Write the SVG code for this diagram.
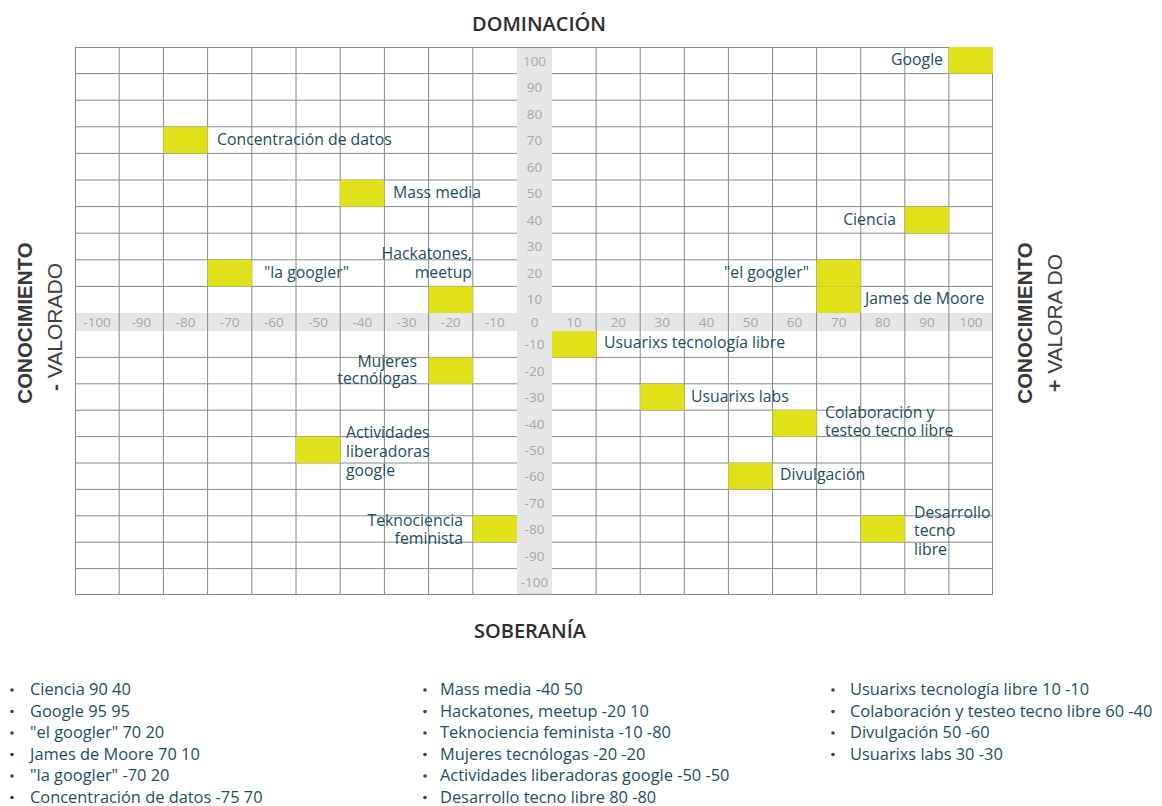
<svg xmlns="http://www.w3.org/2000/svg" width="1162" height="806" viewBox="0 0 1162 806">
<style>
.bg{fill:#ffffff}
.band{fill:#e6e6e6}
.gl{stroke:#8a8a8a;stroke-width:1;fill:none}
.tick{font-family:"Open Sans","Liberation Sans",sans-serif;font-size:13.5px;fill:#a6a6a6;text-anchor:middle}
.sq{fill:#dfe21b}
.lbl{font-family:"Open Sans","Liberation Sans",sans-serif;font-size:15.8px;font-weight:500;fill:#1f4f5c}
.end{text-anchor:end}
.title{font-family:"Open Sans","Liberation Sans",sans-serif;font-size:20px;font-weight:600;fill:#2e2e2e;text-anchor:middle}
.vbold{font-family:"Liberation Sans",Arial,sans-serif;font-size:20.5px;font-weight:bold;fill:#383838;text-anchor:middle}
.vreg{font-family:"Liberation Sans",Arial,sans-serif;font-size:21px;fill:#404040;text-anchor:middle}
.sign{font-weight:bold}
.leg{font-family:"Open Sans","Liberation Sans",sans-serif;font-size:16.4px;font-weight:500;fill:#1f4f5c}
.dot{fill:#1f4f5c}
</style>
<rect class="bg" x="0" y="0" width="1162" height="806"/>

<g id="grid">
<rect class="band" x="75" y="313" width="918" height="18"/>
<rect class="band" x="517" y="47" width="35" height="548"/>
<path class="gl" d="M75 47.5H993M75 73.6H517M552 73.6H993M75 100.2H517M552 100.2H993M75 126.8H517M552 126.8H993M75 153.4H517M552 153.4H993M75 180H517M552 180H993M75 206.6H517M552 206.6H993M75 233.2H517M552 233.2H993M75 259.8H517M552 259.8H993M75 286.4H517M552 286.4H993M75 357.4H517M552 357.4H993M75 383.8H517M552 383.8H993M75 410.2H517M552 410.2H993M75 436.6H517M552 436.6H993M75 463H517M552 463H993M75 489.4H517M552 489.4H993M75 515.8H517M552 515.8H993M75 542.2H517M552 542.2H993M75 568.6H517M552 568.6H993M75 594.5H993"/>
<path class="gl" d="M75.5 47V595M119.2 47V595M163.4 47V595M207.6 47V595M251.8 47V595M296 47V595M340.2 47V595M384.4 47V595M428.6 47V595M472.8 47V595M596.1 47V595M640.2 47V595M684.3 47V595M728.4 47V595M772.5 47V595M816.6 47V595M860.7 47V595M904.8 47V595M948.9 47V595M992.5 47V595"/>
</g>

<g id="ticks">
<text class="tick" x="534.5" y="65.5">100</text>
<text class="tick" x="534.5" y="92">90</text>
<text class="tick" x="534.5" y="118.5">80</text>
<text class="tick" x="534.5" y="145">70</text>
<text class="tick" x="534.5" y="171.5">60</text>
<text class="tick" x="534.5" y="198">50</text>
<text class="tick" x="534.5" y="224.5">40</text>
<text class="tick" x="534.5" y="251">30</text>
<text class="tick" x="534.5" y="277.5">20</text>
<text class="tick" x="534.5" y="304">10</text>
<text class="tick" x="534.5" y="327">0</text>
<text class="tick" x="534.5" y="349">-10</text>
<text class="tick" x="534.5" y="375.5">-20</text>
<text class="tick" x="534.5" y="402">-30</text>
<text class="tick" x="534.5" y="428.5">-40</text>
<text class="tick" x="534.5" y="455">-50</text>
<text class="tick" x="534.5" y="481">-60</text>
<text class="tick" x="534.5" y="507.5">-70</text>
<text class="tick" x="534.5" y="534">-80</text>
<text class="tick" x="534.5" y="560.5">-90</text>
<text class="tick" x="534.5" y="587">-100</text>
<text class="tick" x="97.1" y="327">-100</text>
<text class="tick" x="141.3" y="327">-90</text>
<text class="tick" x="185.5" y="327">-80</text>
<text class="tick" x="229.7" y="327">-70</text>
<text class="tick" x="273.9" y="327">-60</text>
<text class="tick" x="318.1" y="327">-50</text>
<text class="tick" x="362.3" y="327">-40</text>
<text class="tick" x="406.5" y="327">-30</text>
<text class="tick" x="450.7" y="327">-20</text>
<text class="tick" x="494.9" y="327">-10</text>
<text class="tick" x="574" y="327">10</text>
<text class="tick" x="618.2" y="327">20</text>
<text class="tick" x="662.3" y="327">30</text>
<text class="tick" x="706.4" y="327">40</text>
<text class="tick" x="750.5" y="327">50</text>
<text class="tick" x="794.6" y="327">60</text>
<text class="tick" x="838.7" y="327">70</text>
<text class="tick" x="882.8" y="327">80</text>
<text class="tick" x="926.9" y="327">90</text>
<text class="tick" x="971" y="327">100</text>
</g>

<g id="axis-titles">
<text class="title" x="539" y="31">DOMINACIÓN</text>
<text class="title" x="530" y="638">SOBERANÍA</text>
<text class="vbold" transform="translate(32 323) rotate(-90)">CONOCIMIENTO</text>
<text class="vreg" transform="translate(62 327) rotate(-90)"><tspan class="sign">-</tspan> VALORADO</text>
<text class="vbold" transform="translate(1032 323) rotate(-90)">CONOCIMIENTO</text>
<text class="vreg" transform="translate(1062 323) rotate(-90)"><tspan class="sign">+</tspan> VALORA DO</text>
</g>

<g id="node-google">
<rect class="sq" x="948.9" y="47" width="44.1" height="26.6"/>
<text class="lbl end" x="943" y="65">Google</text>
</g>
<g id="node-concentracion">
<rect class="sq" x="163.4" y="126.8" width="44.2" height="26.6"/>
<text class="lbl" x="217" y="144.5">Concentración de datos</text>
</g>
<g id="node-massmedia">
<rect class="sq" x="340.2" y="180" width="44.2" height="26.6"/>
<text class="lbl" x="393" y="198">Mass media</text>
</g>
<g id="node-ciencia">
<rect class="sq" x="904.8" y="206.6" width="44.1" height="26.6"/>
<text class="lbl end" x="896" y="224.5">Ciencia</text>
</g>
<g id="node-lagoogler">
<rect class="sq" x="207.6" y="259.8" width="44.2" height="26.6"/>
<text class="lbl" x="264" y="278">"la googler"</text>
</g>
<g id="node-hackatones">
<rect class="sq" x="428.6" y="286.4" width="44.2" height="26.6"/>
<text class="lbl end" x="472" y="259">Hackatones,</text>
<text class="lbl end" x="472" y="277.5">meetup</text>
</g>
<g id="node-elgoogler">
<rect class="sq" x="816.6" y="259.8" width="44.1" height="26.6"/>
<text class="lbl end" x="809" y="278">"el googler"</text>
</g>
<g id="node-jamesdemoore">
<rect class="sq" x="816.6" y="286.4" width="44.1" height="26.6"/>
<text class="lbl" x="865" y="304">James de Moore</text>
</g>
<g id="node-usuarixs-tec">
<rect class="sq" x="552" y="331" width="44.1" height="26.4"/>
<text class="lbl" x="604" y="348">Usuarixs tecnología libre</text>
</g>
<g id="node-mujeres">
<rect class="sq" x="428.6" y="357.4" width="44.2" height="26.4"/>
<text class="lbl end" x="417" y="366.5">Mujeres</text>
<text class="lbl end" x="417" y="384">tecnólogas</text>
</g>
<g id="node-usuarixs-labs">
<rect class="sq" x="640.2" y="383.8" width="44.1" height="26.4"/>
<text class="lbl" x="691" y="401.5">Usuarixs labs</text>
</g>
<g id="node-colaboracion">
<rect class="sq" x="772.5" y="410.2" width="44.1" height="26.4"/>
<text class="lbl" x="825" y="417.5">Colaboración y</text>
<text class="lbl" x="825" y="435.5">testeo tecno libre</text>
</g>
<g id="node-actividades">
<rect class="sq" x="296" y="436.6" width="44.2" height="26.4"/>
<text class="lbl" x="346" y="437.5">Actividades</text>
<text class="lbl" x="346" y="456.5">liberadoras</text>
<text class="lbl" x="346" y="475.5">google</text>
</g>
<g id="node-divulgacion">
<rect class="sq" x="728.4" y="463" width="44.1" height="26.4"/>
<text class="lbl" x="780" y="480">Divulgación</text>
</g>
<g id="node-teknociencia">
<rect class="sq" x="472.8" y="515.8" width="44.2" height="26.4"/>
<text class="lbl end" x="463" y="525.5">Teknociencia</text>
<text class="lbl end" x="463" y="543.5">feminista</text>
</g>
<g id="node-desarrollo">
<rect class="sq" x="860.7" y="515.8" width="44.1" height="26.4"/>
<text class="lbl" x="914" y="517.5">Desarrollo</text>
<text class="lbl" x="914" y="536">tecno</text>
<text class="lbl" x="914" y="554.5">libre</text>
</g>

<g id="connectors"></g>

<g id="legend">
<circle class="dot" cx="12" cy="690" r="1.8"/><text class="leg" x="30" y="695">Ciencia 90 40</text>
<circle class="dot" cx="12" cy="711.5" r="1.8"/><text class="leg" x="30" y="716.5">Google 95 95</text>
<circle class="dot" cx="12" cy="733" r="1.8"/><text class="leg" x="30" y="738">"el googler" 70 20</text>
<circle class="dot" cx="12" cy="754.5" r="1.8"/><text class="leg" x="30" y="759.5">James de Moore 70 10</text>
<circle class="dot" cx="12" cy="776" r="1.8"/><text class="leg" x="30" y="781">"la googler" -70 20</text>
<circle class="dot" cx="12" cy="797.5" r="1.8"/><text class="leg" x="30" y="802.5">Concentración de datos -75 70</text>

<circle class="dot" cx="425" cy="690" r="1.8"/><text class="leg" x="440" y="695">Mass media -40 50</text>
<circle class="dot" cx="425" cy="711.5" r="1.8"/><text class="leg" x="440" y="716.5">Hackatones, meetup -20 10</text>
<circle class="dot" cx="425" cy="733" r="1.8"/><text class="leg" x="440" y="738">Teknociencia feminista -10 -80</text>
<circle class="dot" cx="425" cy="754.5" r="1.8"/><text class="leg" x="440" y="759.5">Mujeres tecnólogas -20 -20</text>
<circle class="dot" cx="425" cy="776" r="1.8"/><text class="leg" x="440" y="781">Actividades liberadoras google -50 -50</text>
<circle class="dot" cx="425" cy="797.5" r="1.8"/><text class="leg" x="440" y="802.5">Desarrollo tecno libre 80 -80</text>

<circle class="dot" cx="833" cy="690" r="1.8"/><text class="leg" x="850" y="695">Usuarixs tecnología libre 10 -10</text>
<circle class="dot" cx="833" cy="711.5" r="1.8"/><text class="leg" x="850" y="716.5">Colaboración y testeo tecno libre 60 -40</text>
<circle class="dot" cx="833" cy="733" r="1.8"/><text class="leg" x="850" y="738">Divulgación 50 -60</text>
<circle class="dot" cx="833" cy="754.5" r="1.8"/><text class="leg" x="850" y="759.5">Usuarixs labs 30 -30</text>
</g>
</svg>
